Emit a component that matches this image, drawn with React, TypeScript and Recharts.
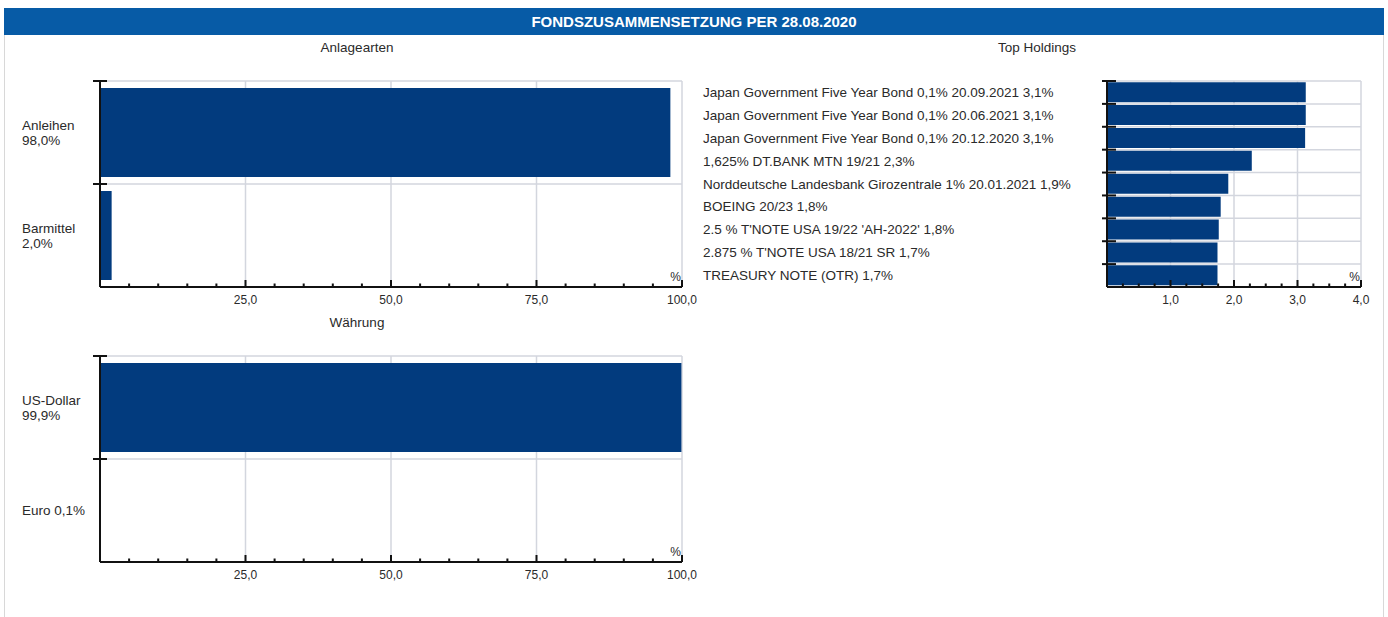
import React from 'react';
import { BarChart, Bar, XAxis, YAxis, CartesianGrid } from 'recharts';

const FONT = '"Liberation Sans", Arial, Helvetica, sans-serif';
const BAR_COLOR = '#023b7e';
const GRID_COLOR = '#d3d6de';
const TEXT_COLOR = '#2a2a2a';
const AXIS_COLOR = '#111111';

const headerTitle = 'FONDSZUSAMMENSETZUNG PER 28.08.2020';

const assetTitle = 'Anlagearten';
const assetNames = ['Anleihen', 'Barmittel'];
const assetValues = [98.0, 2.0];

const currencyTitle = 'Währung';
const currencyNames = ['US-Dollar', 'Euro'];
const currencyValues = [99.9, 0.1];

const holdingsTitle = 'Top Holdings';
const holdingNames = [
  'Japan Government Five Year Bond 0,1% 20.09.2021',
  'Japan Government Five Year Bond 0,1% 20.06.2021',
  'Japan Government Five Year Bond 0,1% 20.12.2020',
  '1,625% DT.BANK MTN 19/21',
  'Norddeutsche Landesbank Girozentrale 1% 20.01.2021',
  'BOEING 20/23',
  "2.5 % T'NOTE USA 19/22 'AH-2022'",
  "2.875 % T'NOTE USA 18/21 SR",
  'TREASURY NOTE (OTR)',
];
const holdingValues = [3.13, 3.13, 3.12, 2.28, 1.91, 1.79, 1.76, 1.74, 1.74];

const pctTicks = [5, 10, 15, 20, 25, 30, 35, 40, 45, 50, 55, 60, 65, 70, 75, 80, 85, 90, 95, 100];
const pctMajorTicks = [25, 50, 75, 100];
const holdingTicks = [0.25, 0.5, 0.75, 1, 1.25, 1.5, 1.75, 2, 2.25, 2.5, 2.75, 3, 3.25, 3.5, 3.75, 4];
const holdingMajorTicks = [1, 2, 3, 4];

const fmt = (v: number) => v.toFixed(1).replace('.', ',');

type PanelProps = {
  names: string[];
  values: number[];
  width: number;
  height: number;
  margin: { top: number; right: number; bottom: number; left: number };
  yAxisWidth: number;
  labelX: number;
  labelMode: 'wrap' | 'inline';
  domainMax: number;
  ticks: number[];
  majorTicks: number[];
  barGap: number;
  crossLeft: number;
  crossRight: number;
  labelSize: number;
};

const X_AXIS_HEIGHT = 30;

function Panel(p: PanelProps) {
  const data = p.names.map((n, i) => ({ name: n, value: p.values[i] }));
  const plotTop = p.margin.top;
  const plotH = p.height - p.margin.top - p.margin.bottom - X_AXIS_HEIGHT;
  const band = plotH / p.names.length;
  const axisX = p.margin.left + p.yAxisWidth;

  const renderYTick = (props: any) => {
    const { y, payload } = props;
    const idx = p.names.indexOf(payload.value);
    const val = p.values[idx];
    const full = `${payload.value} ${fmt(val)}%`;
    let lines: string[];
    if (p.labelMode === 'wrap' && full.length > 10) {
      lines = [payload.value, `${fmt(val)}%`];
    } else {
      lines = [full];
    }
    const topY = y - band / 2;
    const lh = 15;
    const startY = y - ((lines.length - 1) * lh) / 2 + 4.5;
    return (
      <g>
        <line x1={axisX - p.crossLeft} x2={axisX + p.crossRight} y1={topY} y2={topY} stroke={AXIS_COLOR} strokeWidth={2} />
        <text x={p.labelX} y={startY} textAnchor="start" fill={TEXT_COLOR} fontSize={p.labelSize} fontFamily={FONT}>
          {lines.map((l, i) => (
            <tspan key={i} x={p.labelX} dy={i === 0 ? 0 : lh}>
              {l}
            </tspan>
          ))}
        </text>
      </g>
    );
  };

  const renderXTick = (props: any) => {
    const { x, y, payload } = props;
    const v = payload.value;
    const major = p.majorTicks.includes(v);
    const last = v === p.domainMax;
    return (
      <g>
        <line x1={x} x2={x} y1={y} y2={y - (major ? 7 : 3.5)} stroke={AXIS_COLOR} strokeWidth={2} />
        {major && (
          <text x={x} y={y + 17} textAnchor="middle" fill={TEXT_COLOR} fontSize={12} fontFamily={FONT}>
            {fmt(v)}
          </text>
        )}
        {last && (
          <text x={x - 1} y={y - 6} textAnchor="end" fill={TEXT_COLOR} fontSize={12} fontFamily={FONT}>
            %
          </text>
        )}
      </g>
    );
  };

  const hGen = () => p.names.map((_, i) => plotTop + i * band);

  return (
    <BarChart
      width={p.width}
      height={p.height}
      data={data}
      layout="vertical"
      margin={p.margin}
      barCategoryGap={p.barGap}
    >
      <CartesianGrid
        stroke={GRID_COLOR}
        strokeWidth={1.5}
        verticalValues={p.majorTicks}
        horizontalCoordinatesGenerator={hGen}
      />
      <XAxis
        type="number"
        domain={[0, p.domainMax]}
        ticks={p.ticks}
        interval={0}
        height={X_AXIS_HEIGHT}
        tickSize={0}
        tickMargin={0}
        tickLine={false}
        axisLine={{ stroke: AXIS_COLOR, strokeWidth: 2 }}
        tick={renderXTick}
      />
      <YAxis
        type="category"
        dataKey="name"
        width={p.yAxisWidth}
        interval={0}
        tickLine={false}
        tickSize={0}
        axisLine={{ stroke: AXIS_COLOR, strokeWidth: 2 }}
        tick={renderYTick}
      />
      <Bar dataKey="value" fill={BAR_COLOR} isAnimationActive={false} />
    </BarChart>
  );
}

const titleStyle = (cx: number, cy: number): React.CSSProperties => ({
  position: 'absolute',
  left: cx - 150,
  top: cy - 8,
  width: 300,
  height: 16,
  lineHeight: '16px',
  textAlign: 'center',
  fontFamily: FONT,
  fontSize: 13.5,
  color: TEXT_COLOR,
});

export default function App() {
  return (
    <div
      style={{
        position: 'absolute',
        left: 0,
        top: 0,
        width: 1388,
        height: 617,
        overflow: 'hidden',
        background: '#ffffff',
        fontFamily: FONT,
      }}
    >
      <div
        style={{
          position: 'absolute',
          left: 4,
          top: 8,
          width: 1380,
          height: 620,
          boxSizing: 'border-box',
          borderLeft: '1px solid #d8d8d8',
          borderRight: '1px solid #d8d8d8',
          borderTop: '1px solid #d8d8d8',
        }}
      />
      <div
        style={{
          position: 'absolute',
          left: 4,
          top: 8,
          width: 1380,
          height: 27,
          background: '#075ba6',
          color: '#ffffff',
          fontWeight: 'bold',
          fontSize: 15,
          lineHeight: '27px',
          textAlign: 'center',
          fontFamily: FONT,
        }}
      >
        {headerTitle}
      </div>

      <div style={titleStyle(357, 48)}>{assetTitle}</div>
      <div style={titleStyle(357, 323)}>{currencyTitle}</div>
      <div style={titleStyle(1037, 48)}>{holdingsTitle}</div>

      <div style={{ position: 'absolute', left: 0, top: 0 }}>
        <Panel
          names={assetNames}
          values={assetValues}
          width={700}
          height={320}
          margin={{ top: 81, right: 18, bottom: 3, left: 10 }}
          yAxisWidth={90}
          labelX={22}
          labelMode="wrap"
          domainMax={100}
          ticks={pctTicks}
          majorTicks={pctMajorTicks}
          barGap={7}
          crossLeft={7}
          crossRight={7}
          labelSize={13.5}
        />
      </div>

      <div style={{ position: 'absolute', left: 0, top: 290 }}>
        <Panel
          names={currencyNames}
          values={currencyValues}
          width={700}
          height={310}
          margin={{ top: 66, right: 18, bottom: 8, left: 10 }}
          yAxisWidth={90}
          labelX={22}
          labelMode="wrap"
          domainMax={100}
          ticks={pctTicks}
          majorTicks={pctMajorTicks}
          barGap={7}
          crossLeft={7}
          crossRight={7}
          labelSize={13.5}
        />
      </div>

      <div style={{ position: 'absolute', left: 690, top: 0 }}>
        <Panel
          names={holdingNames}
          values={holdingValues}
          width={698}
          height={320}
          margin={{ top: 81, right: 27, bottom: 3, left: 10 }}
          yAxisWidth={407}
          labelX={13}
          labelMode="inline"
          domainMax={4}
          ticks={holdingTicks}
          majorTicks={holdingMajorTicks}
          barGap={1.2}
          crossLeft={5}
          crossRight={9}
          labelSize={13.5}
        />
      </div>
    </div>
  );
}
